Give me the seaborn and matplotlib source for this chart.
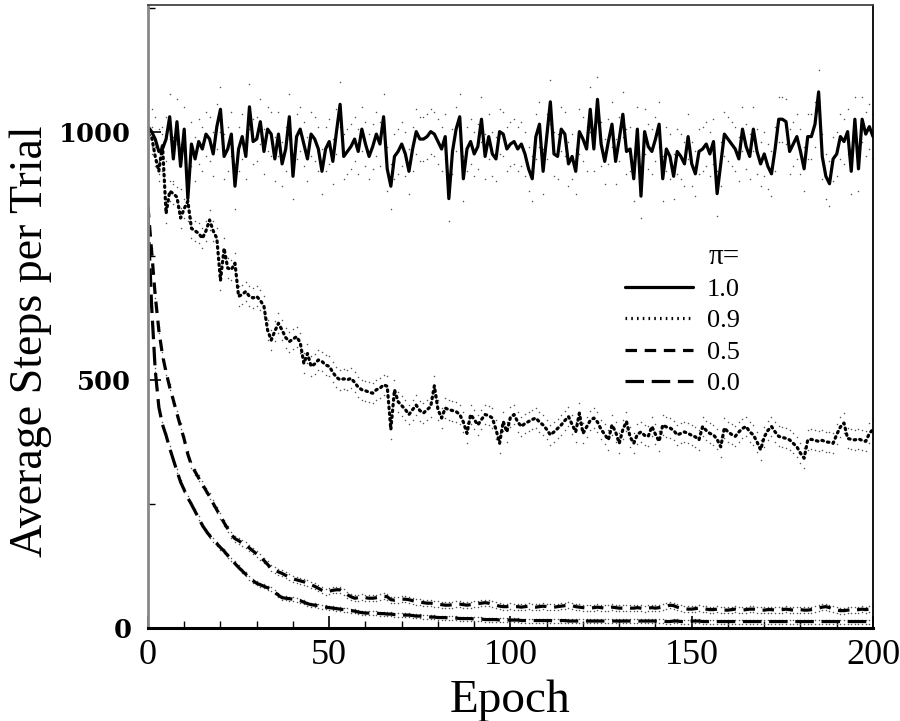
import numpy as np
import pandas as pd
import seaborn as sns
import matplotlib.pyplot as plt
from matplotlib.ticker import MultipleLocator

# Epochs 0..200
epocas = list(range(201))

# pi = 1.0 (no learning, noisy around ~965)
passos_10 = [
    1010, 1000, 985, 960, 965, 985, 1030, 945, 1020, 930,
    1005, 865, 975, 945, 980, 965, 995, 985, 955, 1010,
    1045, 950, 965, 995, 890, 965, 990, 950, 1050, 980,
    985, 1020, 960, 1005, 995, 945, 995, 935, 965, 1030,
    910, 990, 1005, 975, 945, 995, 985, 965, 920, 965,
    980, 940, 1000, 1055, 950, 960, 970, 985, 960, 1005,
    975, 950, 970, 995, 975, 1030, 925, 890, 950, 960,
    975, 955, 920, 965, 1000, 985, 985, 990, 1000, 995,
    980, 965, 990, 865, 960, 1005, 1030, 905, 965, 980,
    955, 970, 1025, 950, 990, 955, 945, 1000, 995, 965,
    975, 980, 965, 975, 955, 925, 905, 990, 1015, 920,
    990, 1060, 955, 950, 1005, 995, 935, 950, 920, 1000,
    985, 965, 1045, 965, 1065, 975, 940, 980, 1015, 940,
    985, 1035, 960, 965, 905, 1005, 870, 1000, 970, 960,
    985, 1015, 905, 965, 950, 910, 960, 950, 935, 990,
    935, 915, 960, 965, 975, 955, 980, 875, 935, 995,
    985, 975, 965, 945, 1005, 970, 950, 1005, 960, 935,
    955, 930, 915, 965, 1025, 1025, 1020, 960, 975, 990,
    960, 925, 990, 990, 1015, 1080, 950, 910, 895, 945,
    955, 990, 980, 1000, 920, 1025, 925, 1025, 995, 1010,
    990,
]

# pi = 0.9
passos_09 = [
    995, 990, 950, 920, 975, 835, 880, 875, 868, 826,
    845, 860, 805, 800, 795, 785, 800, 822, 800, 785,
    700, 765, 725, 722, 735, 668, 672, 678, 668, 665,
    668, 660, 648, 600, 580, 598, 614, 600, 585, 577,
    582, 587, 575, 533, 553, 527, 532, 540, 537, 530,
    527, 515, 505, 500, 502, 500, 503, 495, 485, 480,
    478, 475, 473, 480, 483, 490, 487, 400, 480, 456,
    448, 440, 430, 440, 449, 438, 433, 440, 446, 488,
    440, 423, 443, 440, 438, 436, 430, 415, 392, 430,
    420, 409, 420, 430, 428, 423, 400, 372, 416, 395,
    425, 430, 415, 406, 412, 416, 420, 423, 415, 409,
    400, 389, 395, 402, 409, 418, 426, 410, 395, 433,
    392, 405, 418, 423, 415, 400, 390, 379, 409, 395,
    372, 400, 416, 385, 372, 390, 395, 388, 386, 406,
    390, 376, 409, 405, 403, 398, 389, 392, 395, 392,
    388, 385, 379, 406, 398, 392, 389, 380, 365, 403,
    395, 390, 386, 395, 402, 406, 395, 389, 375, 359,
    385, 398, 406, 395, 386, 384, 382, 379, 372, 365,
    352, 342, 379, 380, 378, 376, 378, 375, 374, 372,
    390, 405, 413, 382, 380, 379, 381, 378, 376, 392,
    400,
]

# pi = 0.5
passos_05 = [
    850, 760, 670, 600, 550, 515, 485, 459, 432, 406,
    380, 350, 328, 315, 302, 290, 277, 265, 251, 238,
    225, 212, 200, 188, 180, 176, 171, 167, 161, 155,
    149, 143, 136, 128, 120, 116, 113, 110, 106, 102,
    99, 97, 95, 93, 90, 87, 84, 80, 76, 73,
    74, 76, 77, 77, 72, 67, 63, 60, 61, 62,
    61, 60, 60, 61, 62, 64, 63, 57, 56, 57,
    58, 58, 57, 55, 53, 52, 51, 50, 50, 49,
    48, 47, 46, 46, 47, 48, 48, 47, 46, 47,
    48, 49, 50, 51, 50, 48, 46, 44, 43, 43,
    44, 43, 43, 42, 43, 44, 43, 42, 43, 44,
    43, 42, 42, 43, 44, 45, 46, 45, 43, 42,
    41, 40, 40, 41, 42, 41, 40, 41, 42, 41,
    40, 40, 41, 40, 40, 41, 40, 39, 40, 41,
    40, 41, 42, 44, 46, 45, 42, 40, 39, 38,
    38, 39, 40, 39, 38, 37, 37, 38, 37, 36,
    36, 37, 38, 37, 36, 37, 38, 38, 37, 36,
    36, 37, 37, 36, 36, 37, 38, 37, 36, 36,
    37, 36, 36, 37, 38, 40, 42, 43, 41, 38,
    36, 35, 35, 36, 37, 36, 37, 38, 37, 38,
    38,
]

# pi = 0.0
passos_00 = [
    830, 650, 520, 445, 410, 388, 362, 339, 316, 294,
    278, 262, 249, 235, 221, 207, 196, 186, 177, 170,
    162, 155, 146, 138, 130, 122, 115, 108, 101, 95,
    90, 87, 84, 81, 78, 72, 66, 61, 60, 59,
    58, 57, 55, 52, 49, 47, 46, 45, 43, 42,
    41, 40, 39, 38, 37, 36, 35, 34, 32, 31,
    30, 30, 30, 30, 29, 29, 28, 28, 27, 27,
    26, 26, 26, 25, 24, 24, 23, 23, 22, 22,
    21, 21, 21, 20, 20, 20, 19, 19, 19, 19,
    18, 18, 18, 17, 17, 17, 17, 16, 16, 16,
    16, 16, 16, 15, 15, 15, 15, 15, 15, 15,
    15, 15, 14, 14, 15, 15, 14, 14, 14, 14,
    14, 14, 14, 14, 14, 14, 14, 14, 14, 14,
    14, 14, 14, 14, 14, 14, 14, 14, 14, 14,
    14, 14, 14, 13, 13, 14, 14, 13, 13, 13,
    14, 14, 14, 13, 13, 13, 13, 13, 13, 13,
    13, 13, 13, 13, 13, 13, 13, 13, 13, 13,
    13, 13, 13, 13, 13, 13, 13, 13, 13, 13,
    13, 13, 13, 13, 13, 13, 13, 13, 13, 13,
    13, 13, 13, 13, 13, 13, 13, 13, 13, 13,
    13,
]

rotulos = ["1.0", "0.9", "0.5", "0.0"]
series = [passos_10, passos_09, passos_05, passos_00]
# half-width of the dotted error bands
meia_banda = [45, 20, 6, 4]

dados = pd.concat(
    [pd.DataFrame({"Epoch": epocas, "Steps": s, "pi": r}) for s, r in zip(series, rotulos)],
    ignore_index=True,
)

sns.set_theme(style="white")
plt.rcParams["font.family"] = ["Liberation Serif", "DejaVu Serif"]
plt.rcParams.update({"text.color": "black", "axes.labelcolor": "black",
                     "xtick.color": "black", "ytick.color": "black"})

fig = plt.figure(figsize=(9, 7.21), dpi=100)
ax = fig.add_axes([0.1644, 0.129, 0.8056, 0.864])

# error band dots
for s, w in zip(series, meia_banda):
    s = np.array(s)
    for lado in (s + w, s - w):
        ax.scatter(epocas, lado, s=1.2, color="#555555", linewidths=0, zorder=1)

tracos = {"1.0": "", "0.9": (0.5, 1.3), "0.5": (3.6, 2.4), "0.0": (5.8, 2.4)}
sns.lineplot(data=dados, x="Epoch", y="Steps", style="pi", style_order=rotulos,
             dashes=tracos, color="black", linewidth=2.3, ax=ax, zorder=2)

for l in ax.get_lines():
    l.set_dash_capstyle("butt")
ax.get_lines()[1].set_dash_capstyle("round")

ax.set_xlim(0, 200)
ax.set_ylim(0, 1255)
ax.xaxis.set_major_locator(MultipleLocator(50))
ax.xaxis.set_minor_locator(MultipleLocator(10))
ax.yaxis.set_major_locator(MultipleLocator(500))
ax.yaxis.set_minor_locator(MultipleLocator(250))
ax.tick_params(which="both", direction="in", bottom=True, left=True,
               top=False, right=False, color="black")
ax.tick_params(which="major", length=9, width=1.2)
ax.tick_params(which="minor", length=5, width=1.0)
ax.tick_params(axis="x", labelsize=26, pad=8)
ax.tick_params(axis="y", pad=12)
for t in ax.get_yticklabels():
    t.set_fontfamily("DejaVu Serif")
    t.set_fontweight("bold")
    t.set_fontsize(18.5)

ax.spines["left"].set_color("#888888")
ax.spines["left"].set_linewidth(2)
ax.spines["bottom"].set_color("black")
ax.spines["bottom"].set_linewidth(2.2)
ax.spines["right"].set_color("black")
ax.spines["right"].set_linewidth(1.3)
ax.spines["top"].set_color("#444444")
ax.spines["top"].set_linewidth(1.3)

ax.set_xlabel("Epoch", fontsize=34, labelpad=5)
ax.set_ylabel("Average Steps per Trial", fontsize=33)
ax.yaxis.set_label_coords(-0.133, 0.46)

h, l = ax.get_legend_handles_labels()
leg = ax.legend(h, l, title="π=", loc="upper left", bbox_to_anchor=(0.625, 0.655),
                frameon=False, fontsize=19, title_fontsize=21, handlelength=2.6,
                handletextpad=0.5, labelspacing=0.3, alignment="right")
for lh in leg.get_lines():
    lh.set_linewidth(2.3)
leg.get_title().set_color("black")
for t in leg.get_texts():
    t.set_color("black")

fig.savefig("out.png", dpi=100)
